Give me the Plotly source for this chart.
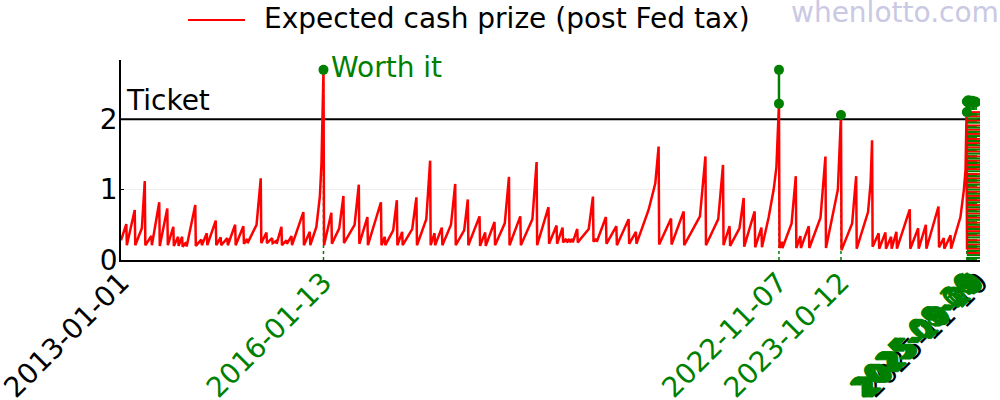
import pandas as pd
import plotly.graph_objects as go

FONT = "DejaVu Sans"
FS = 28
RED = "#ff0000"
GREEN = "#008000"

start_date = "2013-01-01"
start_val = 0.28
end_date = "2025-11-10"
ticket_price = 2

# Jackpot-cycle peaks of the expected cash prize and the value right after each reset
peak_dates = [
    "2013-01-30", "2013-03-17", "2013-05-11", "2013-06-16", "2013-07-29", "2013-09-11",
    "2013-10-14", "2013-11-09", "2013-12-01", "2013-12-23", "2014-02-11", "2014-03-16",
    "2014-04-15", "2014-06-03", "2014-06-30", "2014-08-05", "2014-09-17", "2014-11-01",
    "2014-11-21", "2015-02-04", "2015-03-07", "2015-04-07", "2015-04-29", "2015-05-28",
    "2015-06-24", "2015-07-22", "2015-09-25", "2015-10-30", "2016-01-13", "2016-02-25",
    "2016-05-01", "2016-07-24", "2016-09-09", "2016-11-22", "2016-12-13", "2017-02-17",
    "2017-03-18", "2017-06-04", "2017-08-18", "2017-09-11", "2017-10-21", "2018-01-02",
    "2018-03-12", "2018-05-15", "2018-06-15", "2018-08-05", "2018-10-23", "2018-12-24",
    "2019-03-23", "2019-05-27", "2019-07-10", "2019-08-12", "2019-09-01", "2019-09-18",
    "2019-10-04", "2019-10-31", "2020-01-25", "2020-02-12", "2020-04-05", "2020-06-01",
    "2020-08-07", "2020-09-16", "2021-01-18", "2021-03-27", "2021-06-04", "2021-10-01",
    "2022-01-05", "2022-02-10", "2022-04-28", "2022-06-27", "2022-08-03", "2022-11-07",
    "2022-11-23", "2023-02-07", "2023-03-04", "2023-04-19", "2023-07-19", "2023-10-12",
    "2024-01-03", "2024-03-30", "2024-05-05", "2024-06-11", "2024-07-12", "2024-08-10",
    "2024-10-22", "2024-12-07", "2025-01-18", "2025-03-28", "2025-04-26", "2025-06-02",
    "2025-08-28",
]
peak_vals = [
    0.51, 0.71, 1.12, 0.34, 0.82, 0.73,
    0.47, 0.33, 0.33, 0.25, 0.78, 0.29,
    0.38, 0.56, 0.32, 0.31, 0.50, 0.48,
    0.30, 1.16, 0.39, 0.31, 0.27, 0.47,
    0.28, 0.34, 0.68, 0.40, 2.70, 0.67,
    0.91, 1.07, 0.61, 0.82, 0.33, 0.85,
    0.40, 0.89, 1.41, 0.38, 0.46, 1.08,
    0.86, 0.62, 0.39, 0.54, 1.18, 0.62,
    1.39, 0.75, 0.49, 0.46, 0.30, 0.30,
    0.30, 0.44, 0.90, 0.30, 0.61, 0.48,
    0.58, 0.40, 1.61, 0.59, 0.69, 1.47,
    1.35, 0.48, 0.88, 0.69, 0.46, 2.22,
    0.26, 1.19, 0.34, 0.48, 1.47, 2.06,
    1.19, 1.70, 0.38, 0.39, 0.33, 0.40,
    0.72, 0.45, 0.50, 0.76, 0.31, 0.35,
    2.03,
]
trough_vals = [
    0.21, 0.21, 0.21, 0.21, 0.20, 0.21,
    0.20, 0.20, 0.19, 0.19, 0.20, 0.21,
    0.21, 0.21, 0.21, 0.21, 0.21, 0.23,
    0.24, 0.24, 0.24, 0.24, 0.23, 0.21,
    0.23, 0.21, 0.21, 0.21, 0.21, 0.23,
    0.24, 0.23, 0.21, 0.21, 0.21, 0.21,
    0.21, 0.21, 0.21, 0.21, 0.21, 0.21,
    0.21, 0.20, 0.20, 0.21, 0.21, 0.21,
    0.21, 0.23, 0.23, 0.25, 0.25, 0.25,
    0.25, 0.25, 0.26, 0.26, 0.23, 0.21,
    0.23, 0.23, 0.22, 0.22, 0.21, 0.21,
    0.21, 0.20, 0.19, 0.18, 0.18, 0.17,
    0.17, 0.17, 0.17, 0.17, 0.17, 0.14,
    0.16, 0.19, 0.16, 0.16, 0.16, 0.16,
    0.16, 0.16, 0.16, 0.18, 0.16, 0.16,
    0.15,
]
# intermediate points on the curved run-ups
knee_dates = [
    "2013-04-25", "2015-01-12", "2015-12-05", "2015-12-24", "2016-01-02", "2016-04-08",
    "2016-07-01", "2017-01-28", "2017-05-12", "2017-07-28", "2017-12-10", "2018-02-20",
    "2018-09-30", "2019-02-28", "2020-01-02", "2020-11-24", "2020-12-31", "2021-09-01",
    "2021-12-10", "2022-04-05", "2022-09-12", "2022-10-09", "2022-10-24", "2023-01-15",
    "2023-06-22", "2023-09-25", "2023-10-09", "2023-12-12", "2024-03-08", "2024-03-22",
    "2025-07-26", "2025-08-14", "2025-08-23",
]
knee_vals = [
    0.45, 0.50, 0.47, 0.90, 1.37, 0.45,
    0.50, 0.42, 0.44, 0.58, 0.50, 0.42,
    0.52, 0.58, 0.44, 0.71, 1.09, 0.62,
    0.58, 0.45, 0.61, 1.00, 1.32, 0.52,
    0.60, 1.00, 1.80, 0.52, 0.68, 1.10,
    0.61, 1.00, 1.28,
]

# dense overlapping segment band at the end of the series
band_start = "2025-08-30"
band_red_vals = [2.10, 2.04, 1.98, 1.91, 1.85, 1.79, 1.72, 1.66, 1.60, 1.54, 1.47,
                 1.41, 1.35, 1.29, 1.22, 1.16, 1.10, 1.03, 0.97, 0.91, 0.85, 0.78,
                 0.72, 0.66, 0.60, 0.53, 0.47, 0.41, 0.35, 0.28, 0.22, 0.16, 0.10]
band_green_vals = [2.07, 2.01, 1.95, 1.88, 1.82, 1.76, 1.69, 1.63, 1.57, 1.51, 1.44,
                   1.38, 1.32, 1.26, 1.19, 1.13, 1.07, 1.00, 0.94, 0.88, 0.82, 0.75,
                   0.69, 0.63, 0.57, 0.50, 0.44, 0.38, 0.32, 0.25, 0.19, 0.13, 0.07, 0.03]

# draws where the expected prize beats the ticket price
worth_dates = ["2016-01-13", "2022-11-07", "2022-11-07", "2023-10-12",
               "2025-08-30", "2025-08-30", "2025-09-04", "2025-09-08", "2025-09-15",
               "2025-09-22", "2025-09-29", "2025-10-06", "2025-10-13", "2025-10-20"]
worth_vals = [2.70, 2.22, 2.70, 2.06,
              2.10, 2.25, 2.24, 2.27, 2.25,
              2.24, 2.26, 2.24, 2.25, 2.24]

# ---------------------------------------------------------------- build series
pts = [(pd.Timestamp(start_date), start_val)]
for d, v, t in zip(peak_dates, peak_vals, trough_vals):
    pts.append((pd.Timestamp(d), v))
    pts.append((pd.Timestamp(d) + pd.Timedelta(days=3), t))
for d, v in zip(knee_dates, knee_vals):
    pts.append((pd.Timestamp(d), v))
pts.sort(key=lambda p: p[0])
series_x = [p[0] for p in pts]
series_y = [p[1] for p in pts]

fig = go.Figure()

# ticket price line
fig.add_trace(go.Scatter(x=[start_date, end_date], y=[ticket_price, ticket_price],
                         mode="lines", line=dict(color="black", width=2),
                         showlegend=False, hoverinfo="skip"))

# dotted guides for worth-it draws
wd = pd.Series(worth_vals, index=pd.to_datetime(worth_dates))
groups = wd.groupby(level=0)
gx, gy = [], []
for d, g in groups:
    gx += [d, d, None]
    gy += [0, g.min(), None]
fig.add_trace(go.Scatter(x=gx, y=gy, mode="lines",
                         line=dict(color=GREEN, width=1.5, dash="dot"),
                         showlegend=False, hoverinfo="skip"))

# main series
fig.add_trace(go.Scatter(x=series_x, y=series_y, mode="lines",
                         line=dict(color=RED, width=2.5),
                         name="Expected cash prize (post Fed tax)", showlegend=False))

# end band
bx, by = [], []
for v in band_red_vals:
    bx += [band_start, end_date, None]
    by += [v, v, None]
fig.add_trace(go.Scatter(x=bx, y=by, mode="lines", line=dict(color=RED, width=2),
                         showlegend=False, hoverinfo="skip"))
bx, by = [], []
for v in band_green_vals:
    bx += [band_start, end_date, None]
    by += [v, v, None]
fig.add_trace(go.Scatter(x=bx, y=by, mode="lines", line=dict(color=GREEN, width=2),
                         showlegend=False, hoverinfo="skip"))

# worth-it markers
mx, my = [], []
for d, g in groups:
    for v in sorted(g.values):
        mx.append(d)
        my.append(v)
    mx.append(None)
    my.append(None)
fig.add_trace(go.Scatter(x=mx, y=my, mode="lines+markers",
                         line=dict(color=GREEN, width=2.5),
                         marker=dict(color=GREEN, size=10),
                         showlegend=False, hoverinfo="skip"))

# tick labels: first/last black, worth-it dates green
uniq_worth = sorted(set(worth_dates))
tickvals = [end_date, start_date] + uniq_worth
ticktext = [end_date, start_date] + [f'<span style="color:{GREEN}">{d}</span>' for d in uniq_worth]

fig.update_layout(
    width=1000, height=400,
    margin=dict(l=121, r=20, t=60, b=140, autoexpand=False),
    paper_bgcolor="white", plot_bgcolor="white",
    font=dict(family=FONT, size=FS, color="black"),
    showlegend=False,
    xaxis=dict(type="date", range=[start_date, end_date], showgrid=False,
               showline=True, linecolor="black", linewidth=1.5, automargin=False,
               tickmode="array", tickvals=tickvals, ticktext=ticktext,
               tickangle=-45, ticks="", zeroline=False, ticklabelstandoff=-7,
               ticklabeloverflow="allow",
               tickfont=dict(family=FONT, size=FS, color="black")),
    yaxis=dict(range=[0, 2.84], tickvals=[0, 1, 2], showgrid=True, automargin=False,
               gridcolor="#eeeeee", gridwidth=1, showline=True, linecolor="black",
               linewidth=1.5, ticks="inside", ticklen=3, tickcolor="black",
               ticklabelstandoff=-4,
               zeroline=False, tickfont=dict(family=FONT, size=FS, color="black")),
)

# legend drawn in the top margin (paper coords: x=(px-121)/859, y=(260-py)/200)
fig.add_shape(type="line", xref="paper", yref="paper",
              x0=(188 - 121) / 859, x1=(245 - 121) / 859,
              y0=(260 - 20) / 200, y1=(260 - 20) / 200,
              line=dict(color=RED, width=2))
fig.add_annotation(xref="paper", yref="paper", x=(262 - 121) / 859, y=(260 - 19) / 200,
                   xanchor="left", yanchor="middle", showarrow=False,
                   text="Expected cash prize (post Fed tax)",
                   font=dict(family=FONT, size=FS, color="black"))
fig.add_annotation(xref="paper", yref="paper", x=(1001 - 121) / 859, y=(260 - 12) / 200,
                   xanchor="right", yanchor="middle", showarrow=False,
                   text="whenlotto.com",
                   font=dict(family=FONT, size=FS, color="#c9c9e3"))
fig.add_annotation(xref="x", yref="y", x="2013-01-18", y=ticket_price,
                   xanchor="left", yanchor="bottom", showarrow=False, text="Ticket",
                   font=dict(family=FONT, size=FS, color="black"))
fig.add_annotation(xref="x", yref="y", x=worth_dates[0], y=worth_vals[0],
                   xanchor="left", yanchor="middle", xshift=6, yshift=2, showarrow=False,
                   text="Worth it", font=dict(family=FONT, size=FS, color=GREEN))

# place the figure flush with the page corner, no mode bar
fig.write_html("out.html",
               config={"displayModeBar": False},
               post_script="document.body.style.margin='0';document.body.style.overflow='hidden';")
